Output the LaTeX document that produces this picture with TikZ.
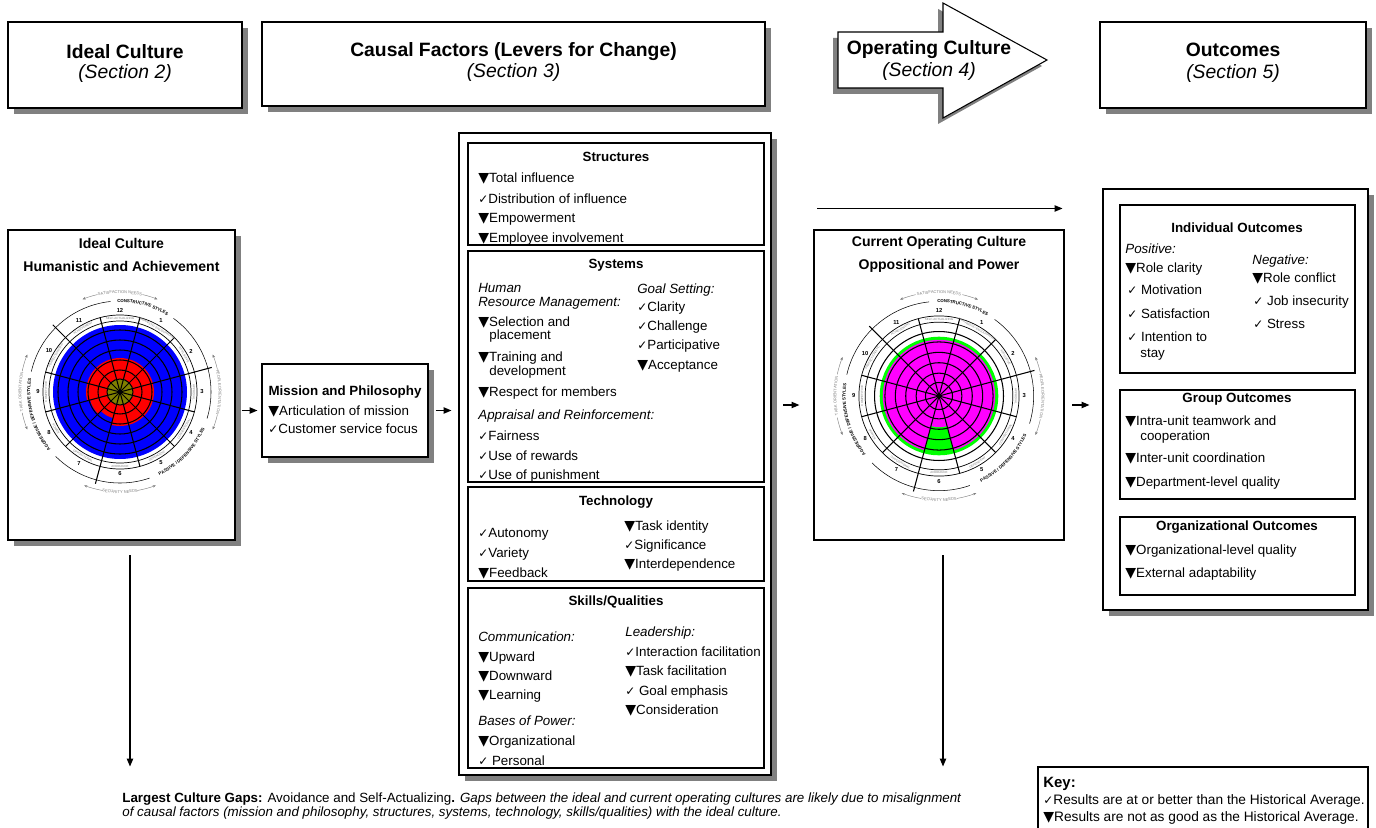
\documentclass[tikz,border=0pt]{standalone}
\usepackage{fontspec}
\setmainfont{Liberation Sans}
\newfontfamily\symfont{DejaVu Sans}
\usetikzlibrary{positioning,calc,fit,shadows,arrows.meta,decorations.text}

\definecolor{cblue}{RGB}{0,0,255}
\definecolor{cred}{RGB}{255,0,0}
\definecolor{colive}{RGB}{128,128,0}
\definecolor{cmagenta}{RGB}{255,0,255}
\definecolor{cgreen}{RGB}{0,255,0}
\definecolor{shade}{RGB}{128,128,128}

\newcommand{\worse}{{\symfont\fontsize{8}{8}\selectfont\char"25BC}}
\newcommand{\better}{{\symfont\fontsize{6.8}{6.8}\selectfont\char"2713}}
\newcommand{\clusterfont}{\fontsize{2.5}{3}\selectfont\bfseries}
\newcommand{\needfont}{\color{gray}\fontsize{2.3}{3}\selectfont}

\tikzset{
  panel/.style={draw, fill=white, line width=0.6pt, inner sep=0pt},
  shadowed/.style={drop shadow={shadow xshift=3.2pt, shadow yshift=-3.2pt, fill=shade, opacity=1}},
  hdtitle/.style={font=\fontsize{11}{13}\selectfont\bfseries, inner sep=0pt},
  hdsub/.style={font=\fontsize{11}{13}\selectfont\itshape, inner sep=0pt},
  boxtitle/.style={font=\fontsize{7.6}{9}\selectfont\bfseries, inner sep=0pt},
  charttitle/.style={font=\fontsize{8}{10}\selectfont\bfseries, inner sep=0pt},
  entry/.style={font=\fontsize{7.6}{9}\selectfont, anchor=base west, inner sep=0pt},
  subhead/.style={entry, font=\fontsize{7.6}{9}\selectfont\itshape},
  flow/.style={line width=0.7pt, -{Triangle[length=4.5pt,width=3.6pt]}},
  webline/.style={line width=0.6pt},
  bandline/.style={line width=0.4pt},
  clusterline/.style={line width=0.3pt},
  needline/.style={draw=gray, line width=0.25pt, -{Stealth[length=1.8pt,width=1.4pt]}},
  stylename/.style={font=\fontsize{1.7}{2}\selectfont, text=gray, inner sep=0pt},
  stylenum/.style={font=\fontsize{3.3}{4}\selectfont\bfseries, inner sep=0pt},
}

% one wedge of the circumplex: colour, style number, radius
\newcommand{\wedgefill}[3]{%
  \fill[#1] (0,0) -- ({75-30*#2}:#3) arc[start angle={75-30*#2}, end angle={105-30*#2}, radius=#3] -- cycle;}

% circumplex grid and labels, centred on the scope origin
\newcommand{\circumplex}[1]{%
  \foreach \r in {13,22,32,42,52,62} {\draw[webline] (0,0) circle (\r);}
  \draw[bandline] (0,0) circle (71) (0,0) circle (77);
  \foreach \a in {15,45,...,345} {\draw[webline] (0,0) -- (\a:77);}
  \foreach \a in {15,135,255} {\draw[webline] (\a:77) -- (\a:95);}
  \foreach \k/\nm/\rot in {1/HUMANISTIC-ENCOURAGING/-30, 2/AFFILIATIVE/-60, 3/APPROVAL/-90,
      4/CONVENTIONAL/60, 5/DEPENDENT/30, 6/AVOIDANCE/0, 7/OPPOSITIONAL/-30, 8/POWER/-60,
      9/COMPETITIVE/90, 10/PERFECTIONISTIC/60, 11/ACHIEVEMENT/30, 12/SELF-ACTUALIZING/0}
    {\node[stylename, rotate=\rot] (#1sty\k) at ({90-30*\k}:74) {\nm};}
  \foreach \k in {1,...,12}
    {\node[stylenum] (#1num\k) at ({90-30*\k}:82) {\k};}
  % cluster ring
  \draw[clusterline] (54:91) arc[start angle=54, end angle=-17, radius=91];
  \draw[clusterline] (-71:91) arc[start angle=-71, end angle=-135, radius=91];
  \draw[clusterline] (167:91) arc[start angle=167, end angle=96, radius=91];
  \path[decorate, decoration={text along path, text align=center, raise=-0.7pt,
      text={|\clusterfont|CONSTRUCTIVE STYLES}}] (100:91) arc[start angle=100, end angle=50, radius=91];
  \path[decorate, decoration={text along path, text align=center, raise=-0.7pt,
      text={|\clusterfont|PASSIVE / DEFENSIVE STYLES}}] (-75:91) arc[start angle=-75, end angle=-13, radius=91];
  \path[decorate, decoration={text along path, text align=center, raise=-0.7pt,
      text={|\clusterfont|AGGRESSIVE / DEFENSIVE STYLES}}] (227:91) arc[start angle=227, end angle=164, radius=91];
  % needs and orientations
  \path[decorate, decoration={text along path, text align=center, raise=-0.8pt,
      text={|\needfont|SATISFACTION NEEDS}}] (106:100) arc[start angle=106, end angle=74, radius=100];
  \path[decorate, decoration={text along path, text align=center, raise=-0.8pt,
      text={|\needfont|PEOPLE ORIENTATION}}] (16:100) arc[start angle=16, end angle=-16, radius=100];
  \path[decorate, decoration={text along path, text align=center, raise=-0.8pt,
      text={|\needfont|SECURITY NEEDS}}] (-104:100) arc[start angle=-104, end angle=-76, radius=100];
  \path[decorate, decoration={text along path, text align=center, raise=-0.8pt,
      text={|\needfont|TASK ORIENTATION}}] (195:100) arc[start angle=195, end angle=165, radius=100];
  \draw[needline] (103:100) arc[start angle=103, end angle=112, radius=100];
  \draw[needline] (77:100) arc[start angle=77, end angle=68, radius=100];
  \draw[needline] (13:100) arc[start angle=13, end angle=22, radius=100];
  \draw[needline] (-13:100) arc[start angle=-13, end angle=-22, radius=100];
  \draw[needline] (-100:100) arc[start angle=-100, end angle=-111, radius=100];
  \draw[needline] (-80:100) arc[start angle=-80, end angle=-69, radius=100];
  \draw[needline] (192:100) arc[start angle=192, end angle=202, radius=100];
  \draw[needline] (168:100) arc[start angle=168, end angle=158, radius=100];
}

\begin{document}
\begin{tikzpicture}[x=0.02cm, y=0.02cm]
\useasboundingbox (0,0) rectangle (1376,-828);

% section headers
\node[panel, shadowed, fit={(8,-22) (242,-108)}] (hdideal) {};
\node[hdtitle] (hdideal1) at ($(hdideal.center)+(0,13)$) {Ideal Culture};
\node[hdsub] (hdideal2) at ($(hdideal.center)+(0,-8)$) {(Section 2)};
\node[panel, shadowed, fit={(262,-22) (765,-106)}] (hdcausal) {};
\node[hdtitle] (hdcausal1) at ($(hdcausal.center)+(0,12)$) {Causal Factors (Levers for Change)};
\node[hdsub] (hdcausal2) at ($(hdcausal.center)+(0,-8)$) {(Section 3)};
\draw[line width=0.6pt, fill=white, drop shadow={shadow xshift=-2.8pt, shadow yshift=-3.4pt, fill=shade, opacity=1}]
  (838,-32) -- (943,-32) -- (943,-3) -- (1047,-60) -- (943,-118) -- (943,-88) -- (838,-88) -- cycle;
\node[hdtitle] (hdop1) at (929,-50) {Operating Culture};
\node[hdsub] (hdop2) at (929,-71) {(Section 4)};
\node[panel, shadowed, fit={(1100,-22) (1366,-108)}] (hdout) {};
\node[hdtitle] (hdout1) at ($(hdout.center)+(0,15)$) {Outcomes};
\node[hdsub] (hdout2) at ($(hdout.center)+(0,-8)$) {(Section 5)};

% ideal culture circumplex
\node[panel, shadowed, fit={(8,-230) (235,-540)}] (idealbox) {};
\node[charttitle] (ideal1) at (121.5,-243) {Ideal Culture};
\node[charttitle] (ideal2) at (121.5,-266) {Humanistic and Achievement};
\begin{scope}[shift={(120,-392)}]
  \fill[cblue] (0,0) circle (67);
  \foreach \k/\rr in {1/34,2/34,3/34,4/34,5/34,6/34,7/27,8/31,9/34,10/34,11/34,12/34}
    {\wedgefill{cred}{\k}{\rr}}
  \fill[colive] (0,0) circle (13);
  \circumplex{L}
\end{scope}

% mission
\node[panel, shadowed, fit={(262,-364) (428,-457)}] (mission) {};
\node[boxtitle] (missiont) at (345,-392) {Mission and Philosophy};
\node[entry] (mi1) at (268,-415) {\worse Articulation of mission};
\node[entry] (mi2) at (268,-433) {\better Customer service focus};

% causal factors
\node[panel, shadowed, fit={(459,-133) (771,-775)}] (causal) {};
\node[panel, fit={(468,-143) (764,-245)}] (struct) {};
\node[boxtitle] (structt) at (616,-157) {Structures};
\node[entry] (st1) at (478,-182) {\worse Total influence};
\node[entry] (st2) at (478,-203) {\better Distribution of influence};
\node[entry] (st3) at (478,-222) {\worse Empowerment};
\node[entry] (st4) at (478,-242) {\worse Employee involvement};

\node[panel, fit={(468,-251) (764,-482)}] (sys) {};
\node[boxtitle] (syst) at (616,-265) {Systems};
\node[subhead] (hr1) at (478,-292) {Human};
\node[subhead] (hr2) at (478,-306) {Resource Management:};
\node[entry] (sy1) at (478,-326) {\worse Selection and};
\node[entry] (sy1b) at (489,-339) {placement};
\node[entry] (sy2) at (478,-361) {\worse Training and};
\node[entry] (sy2b) at (489,-375) {development};
\node[entry] (sy3) at (478,-396) {\worse Respect for members};
\node[subhead] (ar) at (478,-419) {Appraisal and Reinforcement:};
\node[entry] (sy4) at (478,-440) {\better Fairness};
\node[entry] (sy5) at (478,-460) {\better Use of rewards};
\node[entry] (sy6) at (478,-479) {\better Use of punishment};
\node[subhead] (gs) at (637,-293) {Goal Setting:};
\node[entry] (sy7) at (637,-311) {\better Clarity};
\node[entry] (sy8) at (637,-330) {\better Challenge};
\node[entry] (sy9) at (637,-349) {\better Participative};
\node[entry] (sy10) at (637,-369) {\worse Acceptance};

\node[panel, fit={(468,-487) (764,-581)}] (tech) {};
\node[boxtitle] (techt) at (616,-502) {Technology};
\node[entry] (te1) at (478,-537) {\better Autonomy};
\node[entry] (te2) at (478,-557) {\better Variety};
\node[entry] (te3) at (478,-577) {\worse Feedback};
\node[entry] (te4) at (624,-530) {\worse Task identity};
\node[entry] (te5) at (624,-549) {\better Significance};
\node[entry] (te6) at (624,-568) {\worse Interdependence};

\node[panel, fit={(468,-588) (764,-768)}] (skills) {};
\node[boxtitle] (skillst) at (616,-602) {Skills/Qualities};
\node[subhead] (comm) at (478,-641) {Communication:};
\node[entry] (sk1) at (478,-661) {\worse Upward};
\node[entry] (sk2) at (478,-680) {\worse Downward};
\node[entry] (sk3) at (478,-699) {\worse Learning};
\node[subhead] (bp) at (478,-725) {Bases of Power:};
\node[entry] (sk4) at (478,-745) {\worse Organizational};
\node[entry] (sk5) at (478,-765) {\better\ Personal};
\node[subhead] (lead) at (625,-636) {Leadership:};
\node[entry] (sk6) at (625,-656) {\better Interaction facilitation};
\node[entry] (sk7) at (625,-675) {\worse Task facilitation};
\node[entry] (sk8) at (625,-695) {\better\ Goal emphasis};
\node[entry] (sk9) at (625,-714) {\worse Consideration};

% current operating culture circumplex
\node[panel, fit={(814,-230) (1064,-540)}] (curbox) {};
\node[charttitle] (cur1) at (939,-243) {Current Operating Culture};
\node[charttitle] (cur2) at (939,-266) {Oppositional and Power};
\begin{scope}[shift={(939,-396)}, scale=1.04]
  \fill[cgreen] (0,0) circle (57);
  \foreach \k/\rr in {1/54,2/54,3/54,4/54,5/54,6/30,7/54,8/54,9/54,10/54,11/54,12/54}
    {\wedgefill{cmagenta}{\k}{\rr}}
  \circumplex{R}
\end{scope}

% outcomes
\node[panel, shadowed, fit={(1103,-189) (1368,-610)}] (outbox) {};
\node[panel, fit={(1120,-205) (1355,-373)}] (indiv) {};
\node[boxtitle] (indivt) at (1237,-228) {Individual Outcomes};
\node[subhead] (pos) at (1125,-253) {Positive:};
\node[entry] (in1) at (1125,-272) {\worse Role clarity};
\node[entry] (in2) at (1127,-294) {\better\ Motivation};
\node[entry] (in3) at (1127,-318) {\better\ Satisfaction};
\node[entry] (in4) at (1127,-341) {\better\ Intention to};
\node[entry] (in4b) at (1140,-357) {stay};
\node[subhead] (neg) at (1252,-264) {Negative:};
\node[entry] (in5) at (1252,-282) {\worse Role conflict};
\node[entry] (in6) at (1253,-305) {\better\ Job insecurity};
\node[entry] (in7) at (1253,-328) {\better\ Stress};

\node[panel, fit={(1120,-390) (1355,-499)}] (group) {};
\node[boxtitle] (groupt) at (1237,-399) {Group Outcomes};
\node[entry] (gr1) at (1125,-425) {\worse Intra-unit teamwork and};
\node[entry] (gr1b) at (1140,-440) {cooperation};
\node[entry] (gr2) at (1125,-462) {\worse Inter-unit coordination};
\node[entry] (gr3) at (1125,-486) {\worse Department-level quality};

\node[panel, fit={(1120,-517) (1355,-595)}] (org) {};
\node[boxtitle] (orgt) at (1237,-527) {Organizational Outcomes};
\node[entry] (or1) at (1125,-554) {\worse Organizational-level quality};
\node[entry] (or2) at (1125,-577) {\worse External adaptability};

% connectors
\coordinate (midrow) at (0,-405);
\draw[flow, shorten <=3.4pt, shorten >=2.3pt] (idealbox.east |- mission.west) -- (mission.west);
\draw[flow, shorten <=4pt, shorten >=4pt] (mission.east) -- (causal.west |- mission.east);
\draw[flow, shorten <=6.8pt, shorten >=8pt] (causal.east |- midrow) -- (curbox.west |- midrow);
\draw[flow, shorten <=4.5pt, shorten >=7.4pt] (curbox.east |- midrow) -- (outbox.west |- midrow);
\coordinate (topL) at ($(curbox.north west)+(4,21)$);
\coordinate (topR) at ($(curbox.north east)+(-2,21)$);
\draw[flow] (topL) -- (topR);
\coordinate (dropL) at ($(idealbox.south)+(8.5,-226)$);
\draw[flow, shorten <=8.5pt] (idealbox.south -| dropL) -- (dropL);
\coordinate (dropR) at ($(curbox.south)+(4,-226)$);
\draw[flow, shorten <=8.5pt] (curbox.south -| dropR) -- (dropR);

% gaps note and key
\node[entry, font=\fontsize{7.6}{9}\selectfont] (gaps1) at (122,-802) {\textbf{Largest Culture Gaps:} Avoidance and Self-Actualizing\textbf{.} \textit{Gaps between the ideal and current operating cultures are likely due to misalignment}};
\node[entry, font=\fontsize{7.6}{9}\selectfont] (gaps2) at (122,-816) {\textit{of causal factors (mission and philosophy, structures, systems, technology, skills/qualities) with the ideal culture.}};

\node[panel, fit={(1038,-767) (1368,-840)}] (keybox) {};
\node[entry, font=\fontsize{8.5}{9}\selectfont\bfseries] (keyt) at (1043,-787) {Key:};
\node[entry, font=\fontsize{7.8}{9}\selectfont] (key1) at (1043,-804) {\better Results are at or better than the Historical Average.};
\node[entry, font=\fontsize{7.8}{9}\selectfont] (key2) at (1043,-821) {\worse Results are not as good as the Historical Average.};
\end{tikzpicture}
\end{document}
